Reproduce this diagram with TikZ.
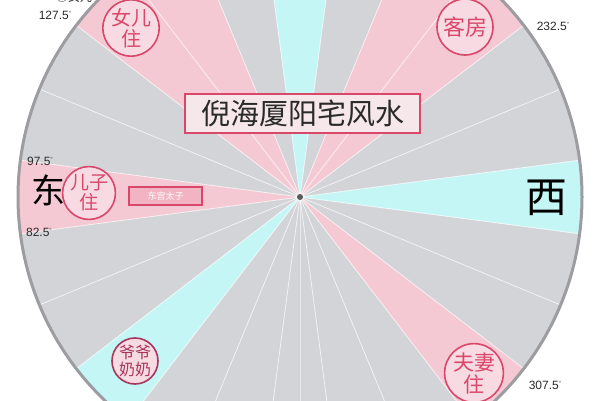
\documentclass[tikz,border=0pt]{standalone}
\usepackage{fontspec}
\setmainfont{Liberation Sans}
\newfontfamily\cjk{Noto Sans CJK SC}
\definecolor{bggray}{HTML}{D3D4D8}
\definecolor{wpink}{HTML}{F5C9D3}
\definecolor{wcyan}{HTML}{C4F6F6}
\definecolor{ringc}{HTML}{9C9CA1}
\definecolor{accent}{HTML}{D9486B}
\definecolor{circfill}{HTML}{F8DAE2}
\definecolor{maroon}{HTML}{A5365C}
\definecolor{tagfill}{HTML}{F2B3C2}
\definecolor{titlefill}{HTML}{F6E7EB}
\definecolor{inkc}{HTML}{2A2A2A}
\begin{document}
\begin{tikzpicture}[x=1pt,y=1pt,
  rayline/.style={white,line width=0.8pt,opacity=0.7},
  roomcirc/.style={circle,draw=accent,line width=1.6pt,fill=circfill,text=accent,
    inner sep=0pt,align=center,font=\cjk\fontsize{20}{21}\selectfont},
  deglabel/.style={text=inkc,inner sep=0pt,font=\fontsize{12}{12}\selectfont},
  compass/.style={text=black,inner sep=0pt,font=\cjk}
]
\useasboundingbox (0,0) rectangle (600,400);
\clip (0,0) rectangle (600,400);
\fill[white] (0,0) rectangle (600,400);
\coordinate (C) at (300,203);
\fill[bggray] (C) circle[radius=282pt];
% pink sectors
\foreach \a/\b in {112.5/142.5, 37.5/67.5, 172.5/187.5, -52.5/-37.5}
  \fill[wpink] (C) -- ++(\a:282pt) arc[start angle=\a, end angle=\b, radius=282pt] -- cycle;
% cyan sectors
\foreach \a/\b in {82.5/97.5, -7.5/7.5, -142.5/-127.5}
  \fill[wcyan] (C) -- ++(\a:282pt) arc[start angle=\a, end angle=\b, radius=282pt] -- cycle;
% radial lines
\foreach \k [evaluate=\k as \ang using 7.5+15*\k] in {0,...,23}
  \draw[rayline] (C) -- ++(\ang:282pt);
\draw[white,line width=0.6pt,opacity=0.45] (C) -- ++(-90:282pt);
% outer ring
\draw[ringc,line width=3pt] (C) circle[radius=282pt];
\fill[black!65] (C) circle[radius=3pt];
% title
\node[draw=accent,line width=1.6pt,fill=titlefill,minimum width=235pt,minimum height=39pt,
  inner sep=0pt,text=inkc,font=\cjk\fontsize{29}{29}\selectfont] (title) at (302.5,286.5) {倪海厦阳宅风水};
% compass characters
\node[compass,font=\cjk\fontsize{34}{34}\selectfont] (east) at (48.5,210) {东};
\node[compass,font=\cjk\fontsize{42}{42}\selectfont] (west) at (546,202) {西};
% room circles
\node[roomcirc,minimum size=56pt] (daughter) at (131,372) {女儿\\住};
\node[roomcirc,minimum size=56pt,font=\cjk\fontsize{22}{22}\selectfont] (guest) at (465,373) {客房};
\node[roomcirc,minimum size=50pt,font=\cjk\fontsize{19}{20}\selectfont] (son) at (89,207) {儿子\\住};
\node[roomcirc,minimum size=46pt,draw=maroon,text=maroon,font=\cjk\fontsize{16}{17}\selectfont] (grand) at (135,39) {爷爷\\奶奶};
\node[roomcirc,minimum size=58pt,font=\cjk\fontsize{21}{22}\selectfont] (couple) at (474,27) {夫妻\\住};
% tag box
\node[draw=accent,line width=1.5pt,fill=tagfill,minimum width=73pt,minimum height=18pt,
  inner sep=0pt,text=white,font=\cjk\fontsize{9}{9}\selectfont] (prince) at (165.5,204) {东宫太子};
% degree labels
\newcommand{\dg}{\raisebox{4pt}{\fontsize{6}{6}\selectfont °}}
\node[deglabel] (d1275) at (55,385) {127.5\dg};
\node[deglabel] (d2325) at (553,374) {232.5\dg};
\node[deglabel] (d975) at (40,239) {97.5\dg};
\node[deglabel] (d825) at (39,168) {82.5\dg};
\node[deglabel] (d3075) at (545,15) {307.5\dg};
\node[deglabel,anchor=base,font=\cjk\fontsize{12}{12}\selectfont] (cut) at (74,398) {◎女儿};
\end{tikzpicture}
\end{document}
